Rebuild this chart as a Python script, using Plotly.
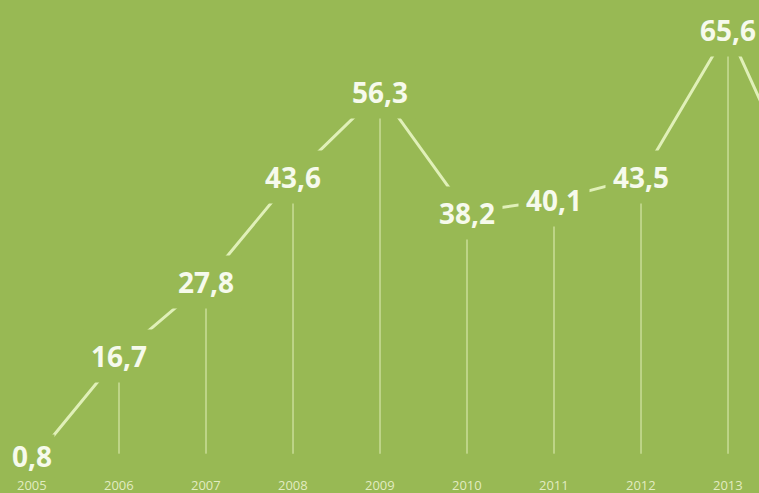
import plotly.graph_objects as go

# Yearly values (the last one continues past the right edge)
years = [2005, 2006, 2007, 2008, 2009, 2010, 2011, 2012, 2013, 2014]
values = [0.8, 16.7, 27.8, 43.6, 56.3, 38.2, 40.1, 43.5, 65.6, 37.0]
year_labels = ["2005", "2006", "2007", "2008", "2009", "2010", "2011", "2012", "2013", "2014"]

BG = "#98b954"
LINE = "rgba(228,242,190,0.95)"
DROP = "rgba(225,240,185,0.5)"
TEXT = "#f6faec"

fig = go.Figure()

# thin drop lines from each point towards the baseline
drop_x, drop_y = [], []
for x, v in zip(years, values):
    if v > 3:
        drop_x += [x, x, None]
        drop_y += [v, 2.0, None]
fig.add_trace(go.Scatter(x=drop_x, y=drop_y, mode="lines",
                         line=dict(color=DROP, width=2), hoverinfo="skip"))

# main trend line
fig.add_trace(go.Scatter(x=years, y=values, mode="lines",
                         line=dict(color=LINE, width=3), hoverinfo="skip"))

# value labels sit on the points and hide the line underneath;
# the lowest one is nudged up so it stays clear of the year row
for i, (x, v) in enumerate(zip(years, values)):
    first = i == 0
    fig.add_annotation(x=x, y=v, xref="x", yref="y",
                       text=f"{v:.1f}".replace(".", ","),
                       showarrow=False, xanchor="center", yanchor="middle",
                       yshift=6 if first else 0,
                       bgcolor=BG, borderpad=2 if first else 7,
                       font=dict(family="Open Sans", size=28, color=TEXT, weight="bold"))

# year labels along the bottom edge
for x, lab in zip(years, year_labels):
    fig.add_annotation(x=x, y=0, xref="x", yref="paper", text=lab,
                       showarrow=False, xanchor="center", yanchor="bottom",
                       yshift=-3,
                       font=dict(family="Open Sans", size=13, color="rgba(240,246,215,0.85)"))

fig.update_layout(
    width=759, height=493,
    margin=dict(l=0, r=0, t=0, b=0),
    paper_bgcolor=BG, plot_bgcolor=BG,
    showlegend=False,
    xaxis=dict(range=[2004.632, 2013.356], visible=False, fixedrange=True),
    yaxis=dict(range=[-3.9, 70.1], visible=False, fixedrange=True),
)

fig.write_html("out.html")
